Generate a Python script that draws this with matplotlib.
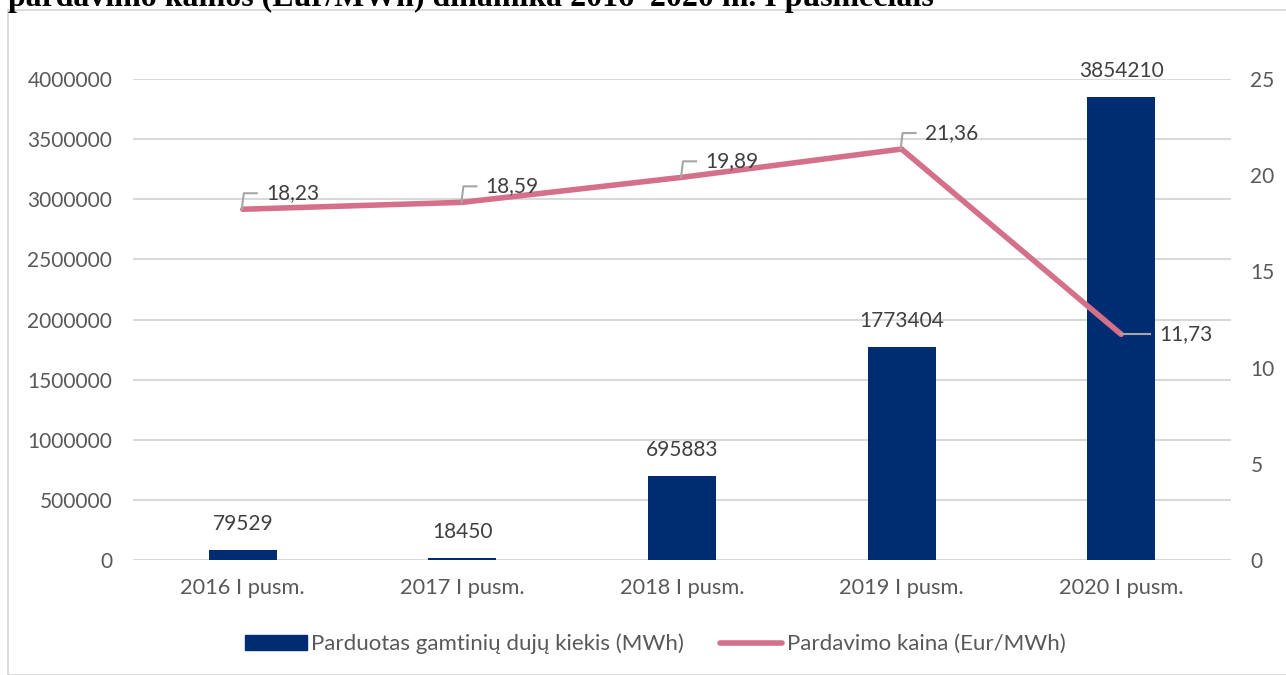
import matplotlib
matplotlib.use("Agg")
import matplotlib.pyplot as plt
from matplotlib.patches import Rectangle
from matplotlib.lines import Line2D

categories = ["2016 I pusm.", "2017 I pusm.", "2018 I pusm.", "2019 I pusm.", "2020 I pusm."]
quantity = [79529, 18450, 695883, 1773404, 3854210]
price = [18.23, 18.59, 19.89, 21.36, 11.73]
left_ticks = [0, 500000, 1000000, 1500000, 2000000, 2500000, 3000000, 3500000, 4000000]
right_ticks = [0, 5, 10, 15, 20, 25]
title = "pardavimo kainos (Eur/MWh) dinamika 2016–2020 m. I pusmečiais"
label_bar = "Parduotas gamtinių dujų kiekis (MWh)"
label_line = "Pardavimo kaina (Eur/MWh)"

NAVY = "#002D72"
PINK = "#D5708B"
GRID = "#D9D9D9"
TICK = "#595959"
LBL = "#404040"
LEAD = "#A6A6A6"
FONT = "Lato"
FS = 15

plt.rcParams['font.family'] = [FONT, 'DejaVu Sans']

W, H = 1286, 675
fig = plt.figure(figsize=(W / 100, H / 100), dpi=100)

# chart border
fig.patches.append(Rectangle((8 / W, 0), 1.2, 1 - 10 / H, transform=fig.transFigure,
                             fill=False, edgecolor=GRID, lw=1.3))

# clipped title
t = fig.text(8 / W, 1 - 6 / H, title, fontfamily="Liberation Serif", fontweight="bold",
             fontsize=23, va="baseline", ha="left", color="black")
fig.canvas.draw()
w = t.get_window_extent().width
t.set_fontsize(23 * 927 / w)

ax = fig.add_axes([133 / W, 1 - 560 / H, (1231 - 133) / W, (560 - 79) / H])
ax2 = ax.twinx()

x = list(range(len(categories)))
ax.bar(x, quantity, width=0.31, color=NAVY, zorder=2)
ax.set_xlim(-0.5, len(categories) - 0.5)
ax.set_ylim(0, 4000000)
ax.set_yticks(left_ticks)
ax.set_yticklabels([str(v) for v in left_ticks])
ax.set_xticks(x)
ax.set_xticklabels(categories)
ax.grid(axis="y", color=GRID, lw=1.5, zorder=0)
ax.set_axisbelow(True)
for s in ax.spines.values():
    s.set_visible(False)
for s in ax2.spines.values():
    s.set_visible(False)
ax.tick_params(axis="y", length=0, pad=15, labelsize=FS, labelcolor=TICK)
ax.tick_params(axis="x", length=0, pad=13, labelsize=15.7, labelcolor=TICK)

for xi, v in zip(x, quantity):
    ax.annotate(str(v), (xi, v), xytext=(0, 16), textcoords="offset pixels",
                ha="center", va="bottom", fontsize=FS, color=LBL)

ax2.plot(x, price, color=PINK, lw=4, solid_capstyle="round", zorder=3)
ax2.set_ylim(0, 25)
ax2.set_yticks(right_ticks)
ax2.set_yticklabels([str(v) for v in right_ticks])
ax2.tick_params(axis="y", length=0, pad=14, labelsize=FS, labelcolor=TICK)

fig.canvas.draw()
to_fig = fig.transFigure.inverted()
for i, (xi, p) in enumerate(zip(x, price)):
    txt = f"{p:.2f}".replace(".", ",")
    px, py = ax2.transData.transform((xi, p))
    if i < len(price) - 1:
        pts = [(px - 1, py), (px + 1, py + 16), (px + 14, py + 16)]
        a = ax2.annotate(txt, (xi, p), xytext=(23, 16), textcoords="offset pixels",
                         ha="left", va="center", fontsize=FS, color=LBL)
    else:
        pts = [(px, py), (px + 29, py)]
        a = ax2.annotate(txt, (xi, p), xytext=(38, 0), textcoords="offset pixels",
                         ha="left", va="center", fontsize=FS, color=LBL)
    fpts = to_fig.transform(pts)
    fig.add_artist(Line2D(fpts[:, 0], fpts[:, 1], transform=fig.transFigure,
                          color=LEAD, lw=1.5, zorder=10))
    a.set_zorder(5)

handles = [Rectangle((0, 0), 1, 1, color=NAVY),
           Line2D([0], [0], color=PINK, lw=4, solid_capstyle="round")]
leg = fig.legend(handles, [label_bar, label_line], loc="center",
                 bbox_to_anchor=(655 / W, 1 - 644 / H), ncol=2, frameon=False,
                 fontsize=16, handlelength=2.8, handleheight=0.65, handletextpad=0.2,
                 columnspacing=1.6, labelcolor=TICK)

fig.savefig("out.png", dpi=100)
